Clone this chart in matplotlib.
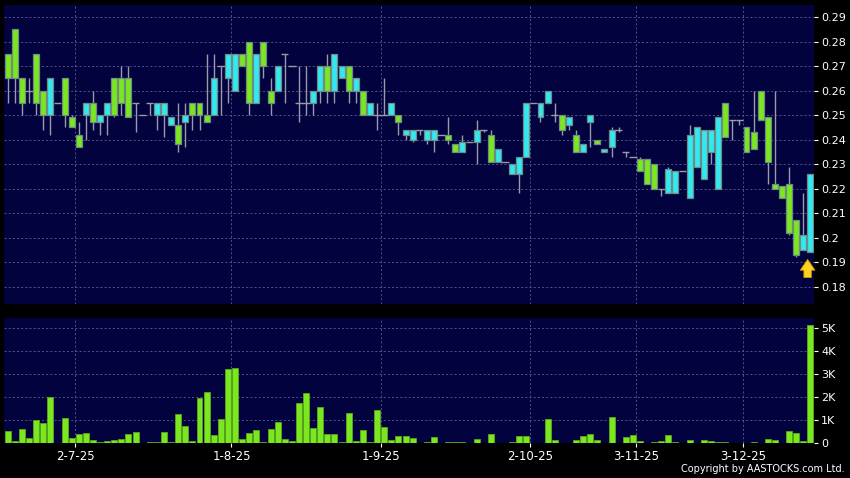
import matplotlib.pyplot as plt

# daily candles, oldest first
opens = [0.275, 0.285, 0.265, 0.26, 0.275, 0.26, 0.25, 0.255, 0.265, 0.249,
         0.242, 0.25, 0.255, 0.247, 0.25, 0.265, 0.265, 0.265, 0.255, 0.25,
         0.255, 0.25, 0.25, 0.246, 0.246, 0.247, 0.255, 0.255, 0.25, 0.25,
         0.27, 0.265, 0.26, 0.275, 0.28, 0.255, 0.28, 0.26, 0.26, 0.275,
         0.27, 0.255, 0.255, 0.255, 0.26, 0.27, 0.26, 0.265, 0.27, 0.26,
         0.26, 0.25, 0.25, 0.25, 0.25, 0.25, 0.242, 0.240, 0.244, 0.240,
         0.240, 0.242, 0.242, 0.238, 0.235, 0.239, 0.239, 0.244, 0.242, 0.231,
         0.231, 0.226, 0.226, 0.233, 0.255, 0.249, 0.255, 0.25, 0.25, 0.246,
         0.242, 0.235, 0.247, 0.240, 0.235, 0.237, 0.244, 0.235, 0.233, 0.232,
         0.232, 0.230, 0.220, 0.218, 0.218, 0.227, 0.216, 0.229, 0.224, 0.235,
         0.220, 0.255, 0.248, 0.248, 0.245, 0.243, 0.26, 0.249, 0.222, 0.221,
         0.222, 0.207, 0.195, 0.194]
highs = [0.275, 0.285, 0.265, 0.265, 0.275, 0.26, 0.265, 0.255, 0.265, 0.25,
         0.247, 0.255, 0.26, 0.25, 0.255, 0.265, 0.27, 0.27, 0.255, 0.25,
         0.255, 0.255, 0.255, 0.249, 0.255, 0.255, 0.255, 0.255, 0.275, 0.275,
         0.27, 0.275, 0.275, 0.275, 0.28, 0.275, 0.28, 0.265, 0.27, 0.275,
         0.27, 0.27, 0.27, 0.26, 0.27, 0.275, 0.275, 0.27, 0.27, 0.265,
         0.26, 0.255, 0.255, 0.265, 0.255, 0.25, 0.244, 0.244, 0.244, 0.244,
         0.244, 0.242, 0.249, 0.238, 0.242, 0.239, 0.248, 0.244, 0.244, 0.236,
         0.231, 0.230, 0.233, 0.255, 0.255, 0.255, 0.26, 0.255, 0.25, 0.249,
         0.244, 0.238, 0.25, 0.240, 0.236, 0.245, 0.245, 0.235, 0.233, 0.233,
         0.232, 0.230, 0.220, 0.229, 0.227, 0.227, 0.246, 0.245, 0.244, 0.244,
         0.249, 0.255, 0.248, 0.248, 0.245, 0.26, 0.26, 0.249, 0.26, 0.221,
         0.229, 0.207, 0.218, 0.226]
lows = [0.255, 0.255, 0.25, 0.255, 0.25, 0.244, 0.242, 0.255, 0.245, 0.245,
        0.237, 0.240, 0.244, 0.242, 0.242, 0.249, 0.25, 0.249, 0.243, 0.25,
        0.25, 0.244, 0.241, 0.246, 0.235, 0.237, 0.244, 0.244, 0.247, 0.25,
        0.25, 0.255, 0.26, 0.27, 0.25, 0.255, 0.265, 0.25, 0.26, 0.255,
        0.27, 0.247, 0.25, 0.25, 0.255, 0.255, 0.255, 0.265, 0.255, 0.255,
        0.25, 0.25, 0.244, 0.25, 0.25, 0.242, 0.240, 0.239, 0.242, 0.238,
        0.235, 0.242, 0.238, 0.235, 0.235, 0.239, 0.230, 0.243, 0.231, 0.231,
        0.231, 0.226, 0.218, 0.233, 0.255, 0.247, 0.255, 0.247, 0.242, 0.244,
        0.235, 0.235, 0.237, 0.238, 0.235, 0.233, 0.243, 0.233, 0.233, 0.227,
        0.222, 0.220, 0.217, 0.218, 0.218, 0.227, 0.216, 0.229, 0.224, 0.230,
        0.220, 0.241, 0.240, 0.246, 0.235, 0.236, 0.248, 0.222, 0.220, 0.216,
        0.201, 0.192, 0.195, 0.194]
closes = [0.265, 0.265, 0.255, 0.26, 0.255, 0.25, 0.265, 0.255, 0.25, 0.245,
          0.237, 0.255, 0.247, 0.25, 0.255, 0.25, 0.255, 0.249, 0.255, 0.25,
          0.255, 0.255, 0.255, 0.249, 0.238, 0.25, 0.25, 0.25, 0.247, 0.265,
          0.27, 0.275, 0.275, 0.27, 0.255, 0.275, 0.27, 0.255, 0.27, 0.275,
          0.27, 0.255, 0.255, 0.26, 0.27, 0.26, 0.275, 0.27, 0.26, 0.265,
          0.25, 0.255, 0.25, 0.25, 0.255, 0.247, 0.244, 0.244, 0.244, 0.244,
          0.244, 0.242, 0.240, 0.235, 0.239, 0.239, 0.244, 0.244, 0.231, 0.236,
          0.231, 0.230, 0.233, 0.255, 0.255, 0.255, 0.26, 0.25, 0.244, 0.249,
          0.235, 0.238, 0.25, 0.238, 0.236, 0.244, 0.244, 0.235, 0.233, 0.227,
          0.222, 0.220, 0.220, 0.228, 0.227, 0.227, 0.242, 0.245, 0.244, 0.244,
          0.249, 0.241, 0.248, 0.248, 0.235, 0.236, 0.248, 0.231, 0.220, 0.216,
          0.202, 0.193, 0.201, 0.226]
# volume in thousands of shares
volumes = [0.54, 0.10, 0.62, 0.25, 1.0, 0.87, 2.0, 0, 1.1, 0.22,
           0.39, 0.43, 0.16, 0.06, 0.12, 0.13, 0.19, 0.39, 0.49, 0,
           0.07, 0.04, 0.51, 0.04, 1.26, 0.74, 0.09, 1.96, 2.23, 0.36,
           1.04, 3.25, 3.29, 0.17, 0.43, 0.57, 0.06, 0.61, 0.94, 0.2,
           0.1, 1.75, 2.19, 0.65, 1.59, 0.41, 0.41, 0.07, 1.3, 0.1,
           0.57, 0.07, 1.45, 0.71, 0.13, 0.3, 0.3, 0.23, 0, 0.04,
           0.28, 0, 0.04, 0.04, 0.04, 0, 0.19, 0, 0.39, 0,
           0.01, 0.04, 0.32, 0.3, 0, 0, 1.06, 0.13, 0, 0.03,
           0.16, 0.3, 0.39, 0.13, 0.03, 1.14, 0, 0.28, 0.35, 0.1,
           0, 0.04, 0.12, 0.35, 0.04, 0, 0.13, 0, 0.14, 0.1,
           0.04, 0.04, 0, 0.03, 0, 0.04, 0, 0.19, 0.14, 0,
           0.55, 0.43, 0.1, 5.13]
date_labels = ["2-7-25", "1-8-25", "1-9-25", "2-10-25", "3-11-25", "3-12-25"]
date_index = [10, 32, 53, 74, 89, 104]   # first candle of each labelled date

price_ticks = [0.18, 0.19, 0.2, 0.21, 0.22, 0.23, 0.24, 0.25, 0.26, 0.27, 0.28, 0.29]
vol_ticks = [0, 1, 2, 3, 4, 5]
vol_labels = ["0", "1K", "2K", "3K", "4K", "5K"]

navy = "#02023f"
up_col = "#33e8f0"
down_col = "#7be81f"
edge_col = "#6f8c84"
wick_col = "#9a9aa8"
grid_col = "#5a5a96"

fig = plt.figure(figsize=(8.5, 4.78), dpi=100, facecolor="black")
ax = fig.add_axes([4 / 850, 174 / 478, 810 / 850, 299 / 478], facecolor=navy)
axv = fig.add_axes([4 / 850, 34.7 / 478, 810 / 850, 125 / 478], facecolor=navy)

x = list(range(len(opens)))
w = 0.84

# wicks
ax.vlines(x, lows, highs, color=wick_col, lw=1.0, zorder=2)

# bodies
for i in x:
    o, c = opens[i], closes[i]
    if o == c:
        ax.hlines(o, i - w / 2 - 0.1, i + w / 2 + 0.1, color=wick_col, lw=1.0, zorder=3)
    else:
        col = up_col if c > o else down_col
        ax.bar(i, abs(c - o), w, bottom=min(o, c), color=col,
               edgecolor=edge_col, linewidth=0.9, zorder=3)

# volume
axv.bar(x, volumes, w, color=down_col, edgecolor="#5aa81a", linewidth=0.6, zorder=3)

# arrow under latest candle
ax.annotate("", xy=(x[-1] - 0.4, 0.1922), xytext=(x[-1] - 0.4, 0.1826),
            arrowprops=dict(arrowstyle="simple,head_width=0.75,head_length=0.55,tail_width=0.38",
                            mutation_scale=14, fc="#ffd21f", ec="#d89a00", lw=0.6),
            zorder=5)

grid_x = [i - 0.5 for i in date_index]
for a in (ax, axv):
    a.set_xlim(-0.52, len(opens) - 0.5)
    for s in a.spines.values():
        s.set_visible(False)
    a.yaxis.tick_right()
    a.tick_params(axis="y", colors="white", labelsize=8, length=3, width=0.8, pad=2)
    for gx in grid_x:
        a.axvline(gx, color=grid_col, lw=0.6, ls=(0, (2.5, 2.5)), zorder=1)

ax.set_ylim(0.1729, 0.2949)
ax.set_yticks(price_ticks)
ax.set_yticklabels(["%g" % p for p in price_ticks])
ax.set_xticks([])
for p in price_ticks:
    ax.axhline(p, color=grid_col, lw=0.6, ls=(0, (2.5, 2.5)), zorder=1)

axv.set_ylim(0, 5.435)
axv.set_yticks(vol_ticks)
axv.set_yticklabels(vol_labels)
for v in vol_ticks[1:]:
    axv.axhline(v, color=grid_col, lw=0.6, ls=(0, (2.5, 2.5)), zorder=1)
axv.set_xticks(grid_x)
axv.set_xticklabels(date_labels)
axv.tick_params(axis="x", colors="white", labelsize=8.5, length=3, width=0.8, pad=2)

fig.text(0.994, 0.008, "Copyright by AASTOCKS.com Ltd.", ha="right", va="bottom",
         color="white", fontsize=7)

fig.savefig("out.png", dpi=100, facecolor="black")
